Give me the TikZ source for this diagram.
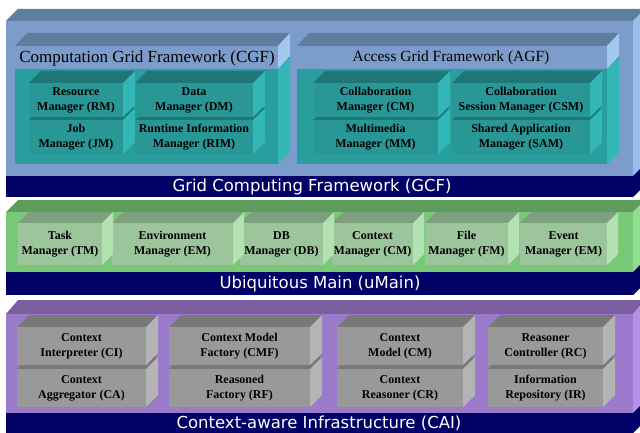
\documentclass[tikz,border=0pt]{standalone}
\usepackage{fontspec}
\setmainfont{Liberation Serif}
\newfontfamily\bandfont{DejaVu Sans}

% palettes: F = front face, T = top face, S = right side face
\definecolor{navy}{HTML}{000066}
\definecolor{gcfF}{HTML}{7C9DCB}\definecolor{gcfT}{HTML}{5F7E9E}\definecolor{gcfS}{HTML}{98BEEA}
\definecolor{ttlF}{HTML}{7C9DCB}\definecolor{ttlT}{HTML}{5F7E9E}\definecolor{ttlS}{HTML}{A3C8F0}
\definecolor{tbodyF}{HTML}{2A9E9E}\definecolor{tbodyT}{HTML}{1F7A7A}\definecolor{tbodyS}{HTML}{33B6B6}
\definecolor{tboxF}{HTML}{2A9797}\definecolor{tboxT}{HTML}{1F7676}\definecolor{tboxS}{HTML}{33B6B6}
\definecolor{umF}{HTML}{78C878}\definecolor{umT}{HTML}{5C9C5C}\definecolor{umS}{HTML}{8EE08E}
\definecolor{ubxF}{HTML}{9CC59C}\definecolor{ubxT}{HTML}{7FA07F}\definecolor{ubxS}{HTML}{B2E2B2}
\definecolor{caiF}{HTML}{9C7ACB}\definecolor{caiT}{HTML}{7B5E9E}\definecolor{caiS}{HTML}{B690E6}
\definecolor{gbxF}{HTML}{999999}\definecolor{gbxT}{HTML}{787878}\definecolor{gbxS}{HTML}{B4B4B4}

% faces of a box: x, y (top of front face), width, height, depth x, depth y, palette
\newcommand{\cubefaces}[7]{%
  \fill[#7T] (#1,#2) -- ++(#5,-#6) -- ++(#3,0) -- ++(-#5,#6) -- cycle;
  \fill[#7S] ({#1+#3},#2) -- ++(#5,-#6) -- ++(0,#4) -- ++(-#5,#6) -- cycle;
  \fill[#7F] (#1,#2) rectangle ++(#3,#4);
}
% labelled box: name, x, y, width, height, depth x, depth y, palette, label
\newcommand{\cuboid}[9]{%
  \cubefaces{#2}{#3}{#4}{#5}{#6}{#7}{#8}
  \node[cubtext] (#1) at ({#2+#4/2},{#3+#5/2}) {#9};
}

\begin{document}
\begin{tikzpicture}[x=1pt,y=-1pt,
  cubtext/.style={font=\fontsize{12}{15}\selectfont\bfseries,align=center,inner sep=0pt},
  titletext/.style={inner sep=0pt},
  bandtext/.style={font=\bandfont\fontsize{16.5}{18}\selectfont,text=white,inner sep=0pt}]
\useasboundingbox (0,0) rectangle (640,433);
\clip (0,0) rectangle (640,433);
\fill[white] (0,0) rectangle (640,433);

% ---------- Grid Computing Framework ----------
\cubefaces{6}{21}{627}{176}{12}{12}{gcf}
\fill[navy] (6,176) rectangle (633,197);
\fill[navy] (633,176) -- ++(12,-12) -- ++(0,21) -- ++(-12,12) -- cycle;
\node[bandtext] (gcf) at (312,187) {Grid Computing Framework (GCF)};

% Computation Grid Framework
\cubefaces{15}{69}{263}{95}{12}{12}{tbody}
\cubefaces{15}{46}{263}{23}{12}{13}{ttl}
\node[titletext,font=\fontsize{17}{19}\selectfont] (cgf) at (147,58) {Computation Grid Framework (CGF)};
\cuboid{jm}{29}{120}{94}{34}{12}{12}{tbox}{Job\\Manager (JM)}
\cuboid{rim}{135}{120}{118}{34}{12}{12}{tbox}{Runtime Information\\Manager (RIM)}
\cuboid{rm}{29}{83}{94}{34}{12}{12}{tbox}{Resource\\Manager (RM)}
\cuboid{dm}{135}{83}{118}{34}{12}{12}{tbox}{Data\\Manager (DM)}

% Access Grid Framework
\cubefaces{297}{69}{310}{95}{12}{12}{tbody}
\cubefaces{297}{46}{310}{23}{12}{13}{ttl}
\node[titletext,font=\fontsize{15.5}{18}\selectfont] (agf) at (451,58) {Access Grid Framework (AGF)};
\cuboid{mm}{313}{120}{125}{34}{12}{12}{tbox}{Multimedia\\Manager (MM)}
\cuboid{sam}{452}{120}{138}{34}{12}{12}{tbox}{Shared Application\\Manager (SAM)}
\cuboid{cm}{313}{83}{125}{34}{12}{12}{tbox}{Collaboration\\Manager (CM)}
\cuboid{csm}{452}{83}{138}{34}{12}{12}{tbox}{Collaboration\\Session Manager (CSM)}

% ---------- Ubiquitous Main ----------
\cubefaces{6}{212}{627}{83}{12}{12}{um}
\fill[navy] (6,272) rectangle (633,295);
\fill[navy] (633,272) -- ++(12,-12) -- ++(0,23) -- ++(-12,12) -- cycle;
\node[bandtext] (umain) at (320,284) {Ubiquitous Main (uMain)};
\cuboid{evm}{520}{223}{87}{42}{11}{11}{ubx}{Event\\Manager (EM)}
\cuboid{fm}{425}{223}{83}{42}{11}{11}{ubx}{File\\Manager (FM)}
\cuboid{ctxm}{332}{223}{81}{42}{11}{11}{ubx}{Context\\Manager (CM)}
\cuboid{db}{240}{223}{83}{42}{11}{11}{ubx}{DB\\Manager (DB)}
\cuboid{em}{112}{223}{121}{42}{11}{11}{ubx}{Environment\\Manager (EM)}
\cuboid{tm}{18}{223}{84}{42}{11}{11}{ubx}{Task\\Manager (TM)}

% ---------- Context-aware Infrastructure ----------
\cubefaces{6}{314}{627}{119}{12}{14}{cai}
\fill[navy] (6,413) rectangle (633,433);
\fill[navy] (633,413) -- ++(12,-12) -- ++(0,20) -- ++(-12,12) -- cycle;
\node[bandtext] (cai) at (319,423) {Context-aware Infrastructure (CAI)};
\cuboid{ca}{17}{369}{129}{38}{12}{12}{gbx}{Context\\Aggregator (CA)}
\cuboid{rf}{169}{369}{141}{38}{12}{12}{gbx}{Reasoned\\Factory (RF)}
\cuboid{cr}{337}{369}{126}{38}{12}{12}{gbx}{Context\\Reasoner (CR)}
\cuboid{ir}{488}{369}{115}{38}{12}{12}{gbx}{Information\\Repository (IR)}
\cuboid{ci}{17}{327}{129}{38}{12}{12}{gbx}{Context\\Interpreter (CI)}
\cuboid{cmf}{169}{327}{141}{38}{12}{12}{gbx}{Context Model\\Factory (CMF)}
\cuboid{cmod}{337}{327}{126}{38}{12}{12}{gbx}{Context\\Model (CM)}
\cuboid{rc}{488}{327}{115}{38}{12}{12}{gbx}{Reasoner\\Controller (RC)}
\end{tikzpicture}
\end{document}
